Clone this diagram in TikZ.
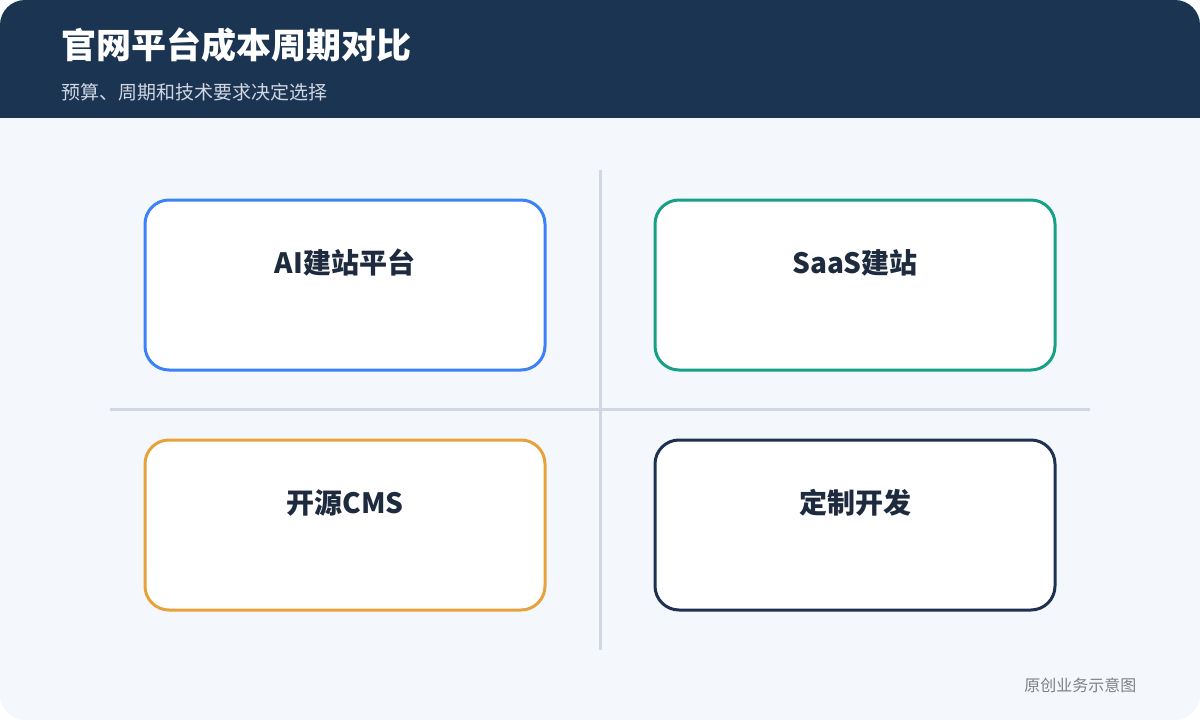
\documentclass[tikz,border=0pt]{standalone}
\usepackage{fontspec}
\setmainfont{Noto Sans CJK SC}
\usepackage{tikz}
\usetikzlibrary{positioning}
\definecolor{headbg}{HTML}{1A3452}
\definecolor{pagebg}{HTML}{F4F7FC}
\definecolor{divline}{HTML}{D0D7E2}
\definecolor{cblue}{HTML}{3B82F6}
\definecolor{cteal}{HTML}{16A085}
\definecolor{corange}{HTML}{E8A23C}
\definecolor{cnavy}{HTML}{1E3250}
\definecolor{labtext}{HTML}{1E2A3E}
\tikzset{
  card/.style={draw=#1,line width=3pt,fill=white,rounded corners=24pt,
    minimum width=400pt,minimum height=170pt,inner sep=0pt},
  cardlabel/.style={font=\fontsize{28}{32}\selectfont\bfseries,text=labtext}
}
\begin{document}
\begin{tikzpicture}[x=1pt,y=-1pt]
  % Background
  \fill[pagebg,rounded corners=25pt] (0,0) rectangle (1200,720);
  \fill[headbg,rounded corners=25pt] (0,0) rectangle (1200,80);
  \fill[headbg] (0,50) rectangle (1200,118);
  \node[anchor=west,text=white,font=\fontsize{35}{40}\selectfont\bfseries] (title) at (58,45) {官网平台成本周期对比};
  \node[anchor=west,text=divline,font=\fontsize{19}{22}\selectfont] (subtitle) at (58,92) {预算、周期和技术要求决定选择};
  % Dividers
  \draw[divline,line width=3pt] (600,170) -- (600,650);
  \draw[divline,line width=3pt] (110,409) -- (1090,409);
  % Cards
  \node[card=cblue] (ai) at (345,285) {};
  \node[card=cteal] (saas) at (855,285) {};
  \node[card=corange] (cms) at (345,525) {};
  \node[card=cnavy] (custom) at (855,525) {};
  \node[cardlabel] at (345,263) {AI建站平台};
  \node[cardlabel] at (855,263) {SaaS建站};
  \node[cardlabel] at (345,503) {开源CMS};
  \node[cardlabel] at (855,503) {定制开发};
  \node[anchor=east,text=gray,font=\fontsize{16}{19}\selectfont] (note) at (1140,685) {原创业务示意图};
\end{tikzpicture}
\end{document}
